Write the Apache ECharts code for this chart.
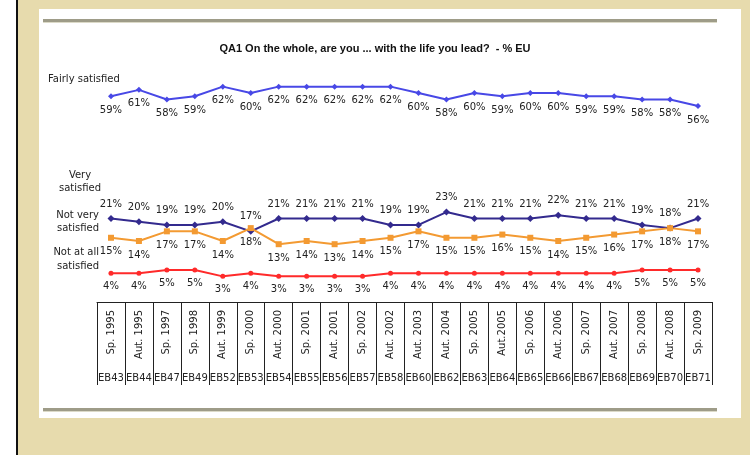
<!DOCTYPE html>
<html>
<head>
<meta charset="utf-8">
<script src="https://cdn.jsdelivr.net/npm/echarts@6/dist/echarts.min.js"></script>
<style>
  html, body { margin: 0; padding: 0; }
  #main { width: 750px; height: 455px; }
</style>
</head>
<body>
<div id="main"></div>
<script>
  // survey waves
  var waves = ['EB43', 'EB44', 'EB47', 'EB49', 'EB52', 'EB53', 'EB54', 'EB55', 'EB56', 'EB57', 'EB58',
    'EB60', 'EB62', 'EB63', 'EB64', 'EB65', 'EB66', 'EB67', 'EB68', 'EB69', 'EB70', 'EB71'];
  // periods
  var periods = ['Sp. 1995', 'Aut. 1995', 'Sp. 1997', 'Sp. 1998', 'Aut. 1999', 'Sp. 2000', 'Aut. 2000',
    'Sp. 2001', 'Aut. 2001', 'Sp. 2002', 'Aut. 2002', 'Aut. 2003', 'Aut. 2004', 'Sp. 2005', 'Aut.2005',
    'Sp. 2006', 'Aut. 2006', 'Sp. 2007', 'Aut. 2007', 'Sp. 2008', 'Aut. 2008', 'Sp. 2009'];
  // values in %
  var fairlySatisfied = [59, 61, 58, 59, 62, 60, 62, 62, 62, 62, 62, 60, 58, 60, 59, 60, 60, 59, 59, 58, 58, 56];
  var verySatisfied = [21, 20, 19, 19, 20, 17, 21, 21, 21, 21, 19, 19, 23, 21, 21, 21, 22, 21, 21, 19, 18, 21];
  var notVerySatisfied = [15, 14, 17, 17, 14, 18, 13, 14, 13, 14, 15, 17, 15, 15, 16, 15, 14, 15, 16, 17, 18, 17];
  var notAtAllSatisfied = [4, 4, 5, 5, 3, 4, 3, 3, 3, 3, 4, 4, 4, 4, 4, 4, 4, 4, 4, 5, 5, 5];

  var FONT = 'DejaVu Sans';

  function mkSeries(name, data, color, symbol, size, pos) {
    return {
      name: name,
      type: 'line',
      xAxisIndex: 0,
      data: data,
      symbol: symbol,
      symbolSize: size,
      lineStyle: { color: color, width: 2 },
      itemStyle: { color: color },
      label: {
        show: true,
        position: pos,
        distance: 6,
        formatter: '{c}%',
        fontFamily: FONT,
        fontSize: 10,
        color: '#222'
      },
      animation: false
    };
  }

  // one line of the left-hand captions
  function sideText(x, y, txt, align) {
    return {
      type: 'text', x: x, y: y, z: 10,
      style: { text: txt, font: '10px "DejaVu Sans"', fill: '#222', align: align, verticalAlign: 'middle' }
    };
  }

  var myChart = echarts.init(document.getElementById('main'));
  var option = {
    backgroundColor: '#e7dbad',
    title: {
      text: 'QA1 On the whole, are you ... with the life you lead?  - % EU',
      left: 'center',
      top: 38,
      textStyle: { fontFamily: 'Liberation Sans', fontSize: 11, fontWeight: 'bold', color: '#111' }
    },
    graphic: [
      { type: 'rect', shape: { x: 0, y: 0, width: 16, height: 455 }, style: { fill: '#ffffff' }, z: -10 },
      { type: 'rect', shape: { x: 16, y: 0, width: 2, height: 455 }, style: { fill: '#111111' }, z: -10 },
      { type: 'rect', shape: { x: 39, y: 9, width: 702, height: 409 }, style: { fill: '#ffffff' }, z: -10 },
      { type: 'rect', shape: { x: 43, y: 19, width: 674, height: 3 }, style: { fill: '#9e9c88' }, z: -5 },
      { type: 'rect', shape: { x: 43, y: 22, width: 674, height: 1 }, style: { fill: '#dcdac8' }, z: -5 },
      { type: 'rect', shape: { x: 43, y: 408, width: 674, height: 3 }, style: { fill: '#9e9c88' }, z: -5 },
      { type: 'rect', shape: { x: 43, y: 411, width: 674, height: 1 }, style: { fill: '#dcdac8' }, z: -5 },
      sideText(48, 79, 'Fairly satisfied', 'left'),
      sideText(80, 175, 'Very', 'center'),
      sideText(80, 188, 'satisfied', 'center'),
      sideText(99, 215, 'Not very', 'right'),
      sideText(99, 228, 'satisfied', 'right'),
      sideText(99, 252, 'Not at all', 'right'),
      sideText(99, 266, 'satisfied', 'right')
    ],
    grid: { left: 97, right: 38, top: 77, height: 209 },
    xAxis: [{
      type: 'category',
      data: periods,
      position: 'bottom',
      offset: 16,
      boundaryGap: true,
      axisLine: { show: true, onZero: false, lineStyle: { color: '#222', width: 1 } },
      axisTick: { show: true, interval: 0, length: 83, lineStyle: { color: '#222', width: 1 } },
      axisLabel: { interval: 0, rotate: 90, margin: 8, fontFamily: FONT, fontSize: 10, color: '#222' },
      splitLine: { show: false }
    }, {
      type: 'category',
      data: waves,
      position: 'bottom',
      offset: 16,
      boundaryGap: true,
      axisLine: { show: false, onZero: false },
      axisTick: { show: false },
      axisLabel: { interval: 0, margin: 71, fontFamily: FONT, fontSize: 10, color: '#222' },
      splitLine: { show: false }
    }],
    yAxis: {
      type: 'value',
      min: 0,
      max: 65,
      show: false,
      splitLine: { show: false }
    },
    series: [
      mkSeries('Fairly satisfied', fairlySatisfied, '#4848e6', 'diamond', 6, 'bottom'),
      mkSeries('Very satisfied', verySatisfied, '#332a8e', 'diamond', 7, 'top'),
      mkSeries('Not very satisfied', notVerySatisfied, '#f39a32', 'rect', 6, 'bottom'),
      mkSeries('Not at all satisfied', notAtAllSatisfied, '#ff2a2a', 'circle', 5, 'bottom')
    ]
  };
  myChart.setOption(option, true);
</script>
</body>
</html>
